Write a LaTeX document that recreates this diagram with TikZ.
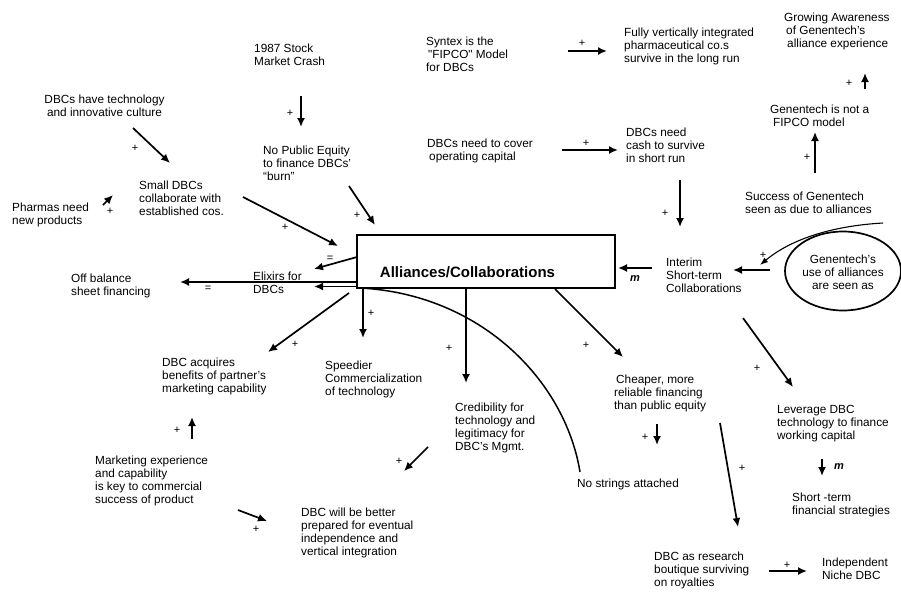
\documentclass[tikz,border=0pt]{standalone}
\usepackage{fontspec}
\setmainfont{Liberation Sans}
\usetikzlibrary{arrows.meta,shapes.geometric}
\begin{document}
\begin{tikzpicture}[x=1pt,y=-1pt,
  txt/.style={font=\fontsize{11.8}{13}\selectfont, align=left, anchor=north west, inner sep=0pt},
  ctxt/.style={font=\fontsize{11.8}{13}\selectfont, align=center, inner sep=0pt},
  arr/.style={line width=1.7pt, -{Latex[length=9pt,width=8pt]}},
  thinarr/.style={line width=1.1pt, -{Latex[length=8pt,width=6pt]}},
  lbl/.style={font=\fontsize{11}{11}\selectfont, inner sep=0pt},
  mlbl/.style={font=\fontsize{11}{11}\selectfont\bfseries\itshape, inner sep=0pt}]
\useasboundingbox (0,0) rectangle (901,602);
\fill[white] (0,0) rectangle (901,602);

% ---------- text nodes ----------
\node[txt] (crash) at (254,44) {1987 Stock\\Market Crash};
\node[ctxt, anchor=north] (tech) at (104.5,95) {DBCs have technology\\and innovative culture};
\node[txt] (small) at (139,181) {Small DBCs\\collaborate with\\established cos.};
\node[txt] (pharm) at (12,203) {Pharmas need\\new products};
\node[txt] (nopub) at (263,146) {No Public Equity\\to finance DBCs’\\“burn”};
\node[txt] (syntex) at (426,37) {Syntex is the\\\hspace{2pt}{\addfontfeatures{Ligatures=TeXOff}"FIPCO"} Model\\for DBCs};
\node[txt] (cover) at (427,139) {DBCs need to cover\\\hspace{2pt}operating capital};
\node[txt] (fully) at (624,28) {Fully vertically integrated\\pharmaceutical co.s\\survive in the long run};
\node[txt] (growing) at (784,13) {Growing Awareness\\\hspace{2pt}of Genentech’s\\\hspace{3pt}alliance experience};
\node[txt] (notfipco) at (770,105) {Genentech is not a\\\hspace{3pt}FIPCO model};
\node[txt] (cash) at (626,128) {DBCs need\\cash to survive\\in short run};
\node[txt] (success) at (745,192) {Success of Genentech\\seen as due to alliances};
\node[ellipse, draw, line width=1.7pt, minimum width=116pt, minimum height=79pt, inner sep=0pt] (ell) at (843,271) {};
\node[ctxt] (elltxt) at (843,272) {Genentech’s\\use of alliances\\are seen as};
\node[txt] (interim) at (666,258) {Interim\\Short-term\\Collaborations};
\draw[line width=1.5pt] (357,235) rectangle (615,288);
\coordinate (box) at (486,261.5);
\node[font=\fontsize{15}{15}\selectfont\bfseries, inner sep=0pt] (boxtxt) at (467.5,272) {Alliances/Collaborations};
\node[txt] (elixirs) at (253,272) {Elixirs for\\DBCs};
\node[txt] (offbal) at (71,274) {Off balance\\sheet financing};
\node[txt] (acquires) at (162,358) {DBC acquires\\benefits of partner’s\\marketing capability};
\node[txt] (speedier) at (325,361) {Speedier\\Commercialization\\of technology};
\node[txt] (cred) at (455,403) {Credibility for\\technology and\\legitimacy for\\DBC’s Mgmt.};
\node[txt] (cheaper) at (614,375) {\hspace{2pt}Cheaper, more\\reliable financing\\than public equity};
\node[txt] (leverage) at (777,405) {Leverage DBC\\technology to finance\\working capital};
\node[txt] (nostrings) at (577,479) {No strings attached};
\node[txt] (shortterm) at (792,493) {Short -term\\financial strategies};
\node[txt] (marketing) at (95,456) {Marketing experience\\and capability\\is key to commercial\\success of product};
\node[txt] (better) at (301,508) {DBC will be better\\prepared for eventual\\independence and\\vertical integration};
\node[txt] (boutique) at (654,552) {DBC as research\\boutique surviving\\on royalties};
\node[txt] (niche) at (822,558) {Independent\\Niche DBC};

% ---------- connector end points ----------
\coordinate (a1s) at (133,128);  \coordinate (a1e) at (170,163);
\coordinate (a2s) at (301,96);   \coordinate (a2e) at (301,127);
\coordinate (a3s) at (349,186);  \coordinate (a3e) at (375,225);
\coordinate (a4s) at (243,197);  \coordinate (a4e) at (338,246);
\coordinate (a5s) at (103,205);  \coordinate (a5e) at (113,195);
\coordinate (a6s) at (357,257);  \coordinate (a6e) at (314,269);
\coordinate (a7s) at (357,282);  \coordinate (a7e) at (180,282);
\coordinate (a8s) at (357,286.5);  \coordinate (a8e) at (314,286.5);
\coordinate (a9s) at (349,293);  \coordinate (a9e) at (268,352);
\coordinate (a10s) at (363,288); \coordinate (a10e) at (363,338);
\coordinate (a11s) at (466,288); \coordinate (a11e) at (466,383);
\coordinate (a12s) at (555,289); \coordinate (a12e) at (623,357);
\coordinate (a13s) at (652,268); \coordinate (a13e) at (618,268);
\coordinate (a14s) at (770,270); \coordinate (a14e) at (733,270);
\coordinate (a15s) at (883,223); \coordinate (a15e) at (760,265);
\coordinate (a16s) at (680,180); \coordinate (a16e) at (680,227);
\coordinate (a17s) at (562,150); \coordinate (a17e) at (618,150);
\coordinate (a18s) at (568,51);  \coordinate (a18e) at (607,51);
\coordinate (a19s) at (815,173); \coordinate (a19e) at (815,132);
\coordinate (a20s) at (865,89);  \coordinate (a20e) at (865,73);
\coordinate (a21s) at (743,318); \coordinate (a21e) at (793,387);
\coordinate (a22s) at (657,424); \coordinate (a22e) at (657,445);
\coordinate (a23s) at (720,423); \coordinate (a23e) at (738,527);
\coordinate (a24s) at (822,459); \coordinate (a24e) at (822,476);
\coordinate (a25s) at (769,571); \coordinate (a25e) at (807,571);
\coordinate (a26s) at (192,439); \coordinate (a26e) at (192,417);
\coordinate (a27s) at (238,510); \coordinate (a27e) at (267,521);
\coordinate (a28s) at (428,447); \coordinate (a28e) at (404,471);
\coordinate (cvs) at (360,288);  \coordinate (cve) at (580,472);

% ---------- connectors ----------
\draw[arr] (a1s) -- (a1e);
\draw[arr] (a2s) -- (a2e);
\draw[arr] (a3s) -- (a3e);
\draw[arr] (a4s) -- (a4e);
\draw[arr] (a5s) -- (a5e);
\draw[arr] (a6s) -- (a6e);
\draw[arr] (a7s) -- (a7e);
\draw[arr] (a8s) -- (a8e);
\draw[arr] (a9s) -- (a9e);
\draw[arr] (a10s) -- (a10e);
\draw[arr] (a11s) -- (a11e);
\draw[arr] (a12s) -- (a12e);
\draw[arr] (a13s) -- (a13e);
\draw[arr] (a14s) -- (a14e);
\draw[thinarr] (a15s) .. controls (830,226) and (790,240) .. (a15e);
\draw[arr] (a16s) -- (a16e);
\draw[arr] (a17s) -- (a17e);
\draw[arr] (a18s) -- (a18e);
\draw[arr] (a19s) -- (a19e);
\draw[arr] (a20s) -- (a20e);
\draw[arr] (a21s) -- (a21e);
\draw[arr] (a22s) -- (a22e);
\draw[arr] (a23s) -- (a23e);
\draw[arr] (a24s) -- (a24e);
\draw[arr] (a25s) -- (a25e);
\draw[arr] (a26s) -- (a26e);
\draw[arr] (a27s) -- (a27e);
\draw[arr] (a28s) -- (a28e);
\draw[line width=1.5pt] (cvs) .. controls (480,294) and (565,380) .. (cve);

% ---------- polarity labels ----------
\node[lbl] (p1) at (135,148) {+};
\node[lbl] (p2) at (290,113) {+};
\node[lbl] (p3) at (357,215) {+};
\node[lbl] (p4) at (285,227) {+};
\node[lbl] (p5) at (110,211) {+};
\node[lbl] (e6) at (330,259) {=};
\node[lbl] (e7) at (208,289) {=};
\node[lbl] (p9) at (295,344) {+};
\node[lbl] (p10) at (371,313) {+};
\node[lbl] (p11) at (449,348) {+};
\node[lbl] (p12) at (586,345) {+};
\node[mlbl] (m13) at (635,279) {m};
\node[lbl] (p15) at (763,255) {+};
\node[lbl] (p16) at (665,213) {+};
\node[lbl] (p17) at (586,143) {+};
\node[lbl] (p18) at (582,43) {+};
\node[lbl] (p19) at (807,157) {+};
\node[lbl] (p20) at (849,83) {+};
\node[lbl] (p21) at (757,368) {+};
\node[lbl] (p22) at (645,437) {+};
\node[lbl] (p23) at (742,468) {+};
\node[mlbl] (m24) at (839,467) {m};
\node[lbl] (p25) at (787,565) {+};
\node[lbl] (p26) at (177,430) {+};
\node[lbl] (p27) at (256,529) {+};
\node[lbl] (p28) at (399,461) {+};
\end{tikzpicture}
\end{document}
